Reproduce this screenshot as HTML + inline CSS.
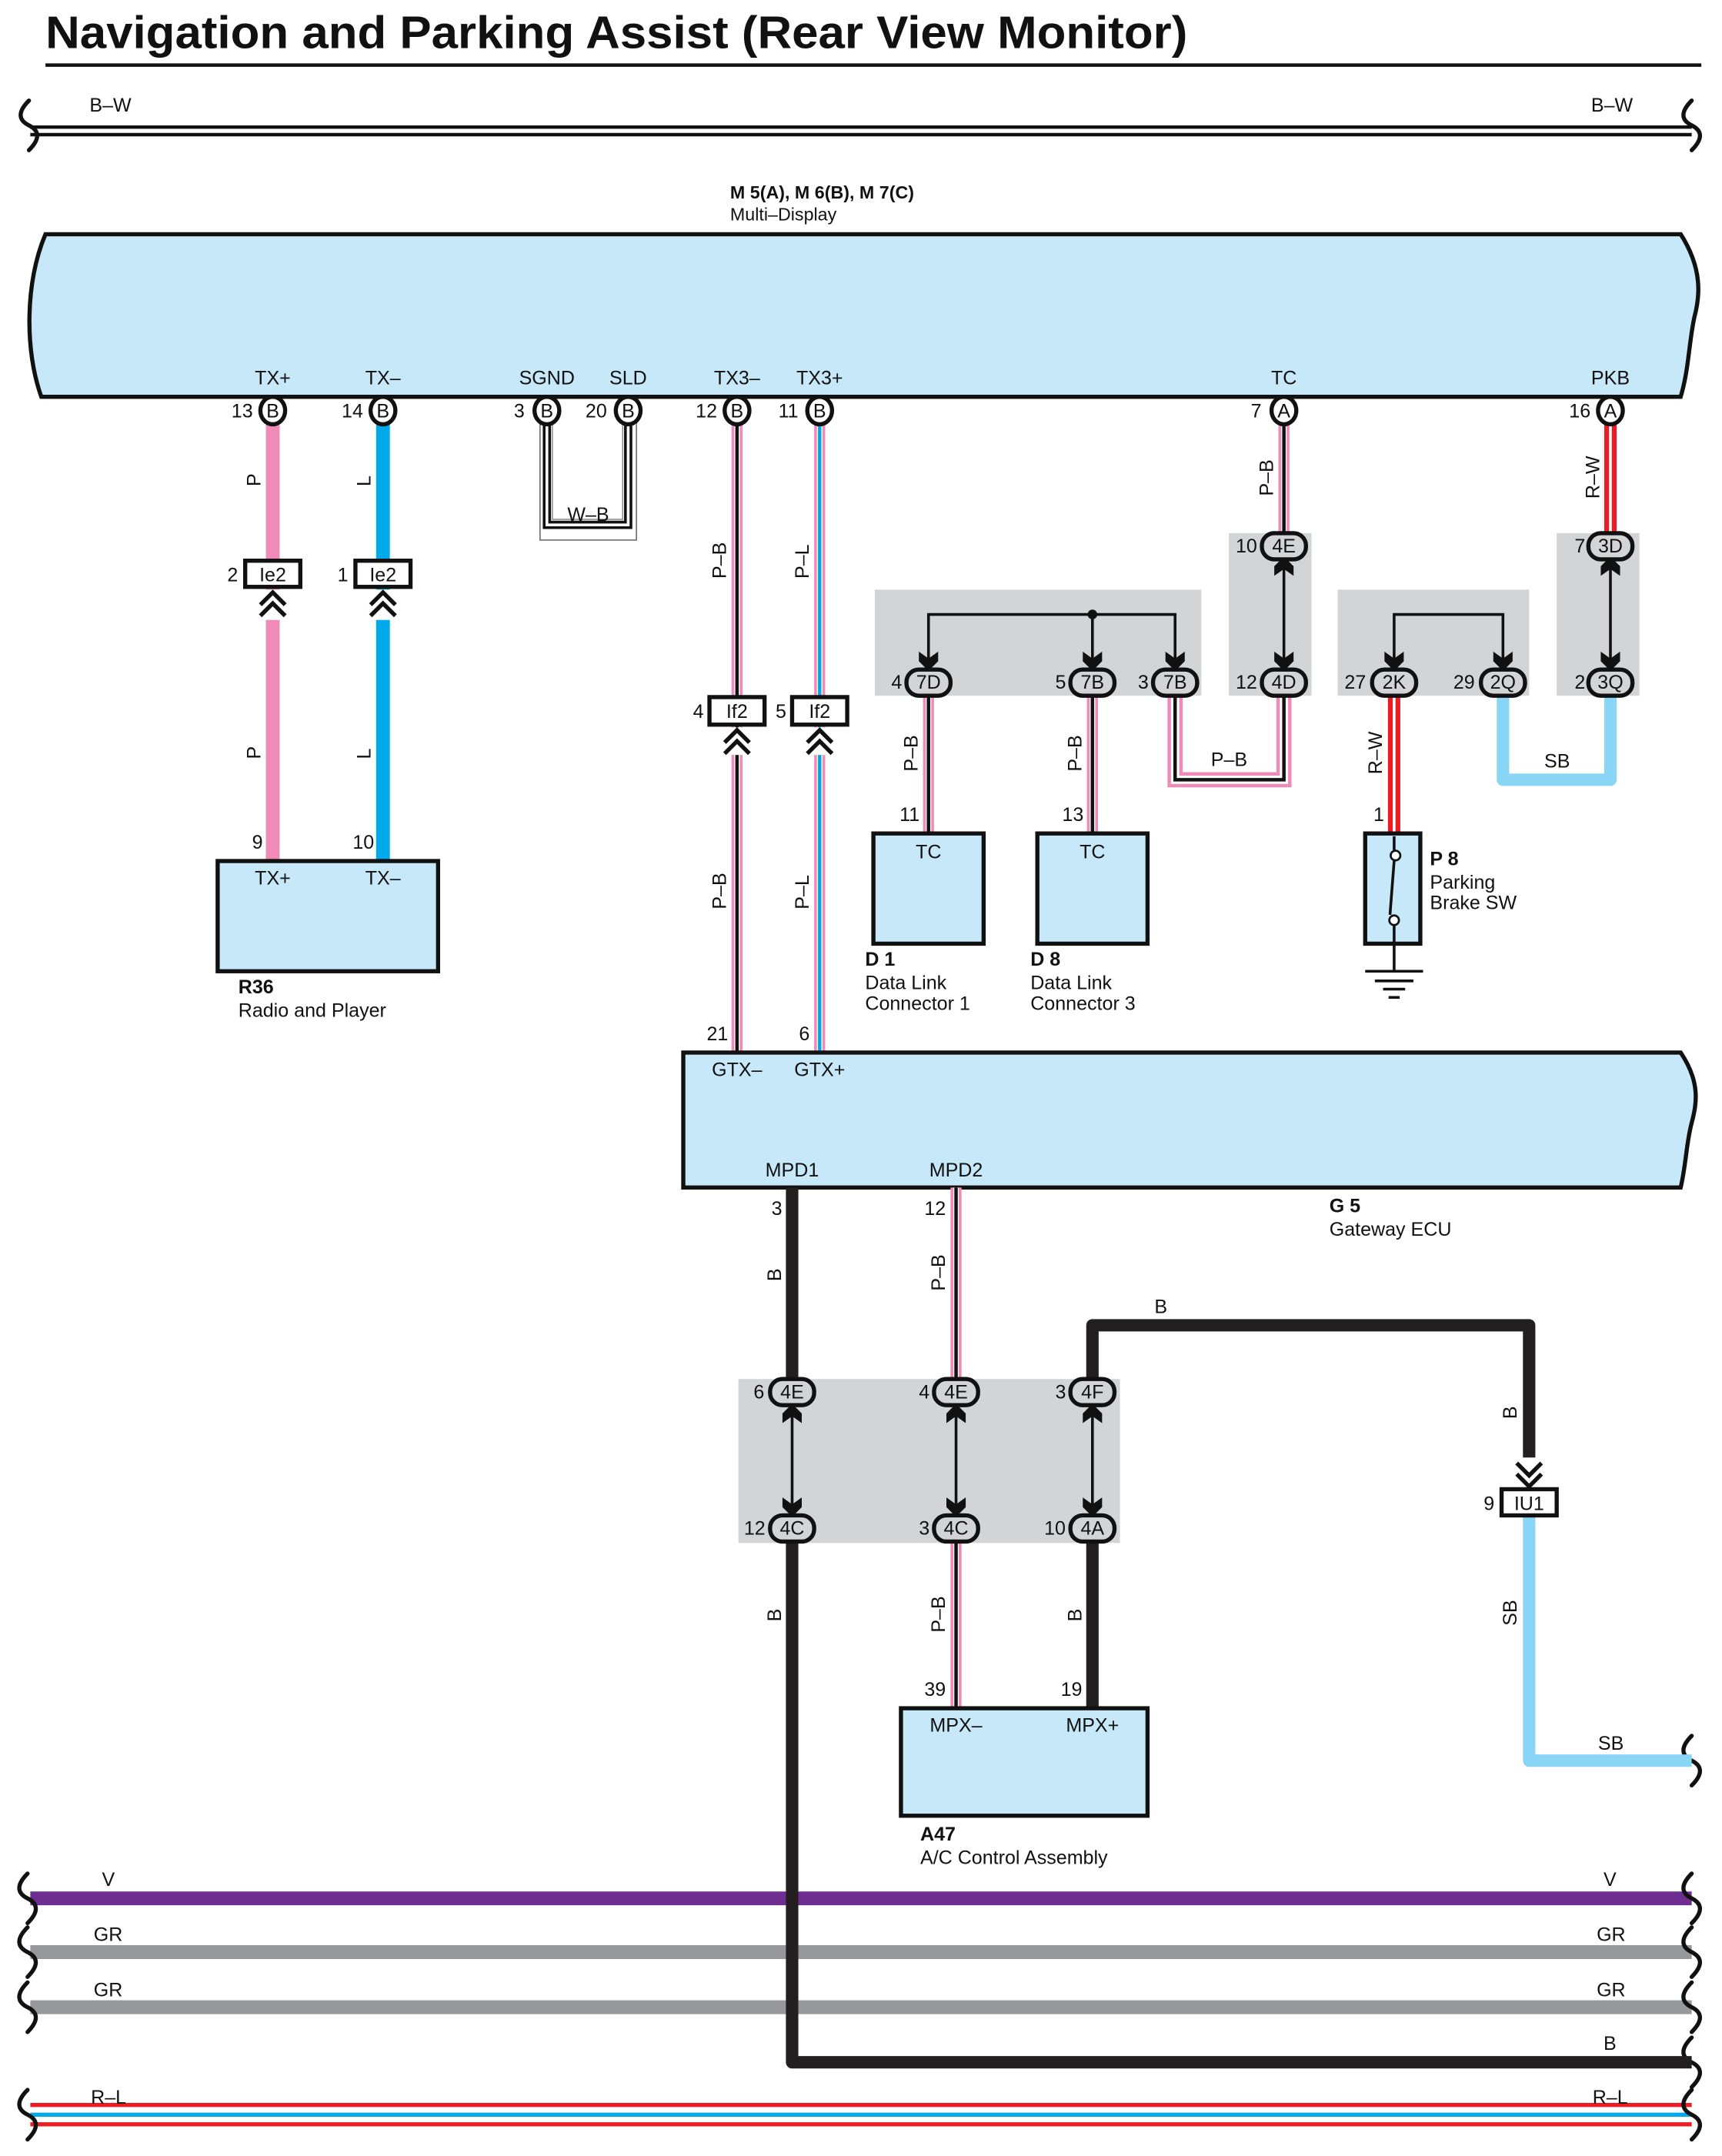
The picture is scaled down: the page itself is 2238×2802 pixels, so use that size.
<!DOCTYPE html>
<html><head><meta charset="utf-8"><style>
html,body{margin:0;padding:0;background:#fff}
svg{display:block}
text{font-family:"Liberation Sans",sans-serif;font-size:14px;fill:#111}
.b{font-weight:bold}
</style></head><body>
<svg width="2238" height="2802" viewBox="0 0 1250 1565" xmlns="http://www.w3.org/2000/svg">
<defs>
<path id="chev" d="M-9,9 L0,0 L9,9 M-9,17 L0,8 L9,17" fill="none" stroke="#111" stroke-width="3"/>
<path id="ad" d="M-7,-11 L0,-6 L7,-11 L7,-4 L0,3 L-7,-4Z" fill="#111"/>
<path id="brace" d="M0,-18 C-8,-10 -8,-4 0,0 C8,4 8,10 0,18" fill="none" stroke="#111" stroke-width="3" stroke-linecap="round"/>
</defs>

<text x="33" y="35" class="b" style="font-size:33px" textLength="829" lengthAdjust="spacingAndGlyphs">Navigation and Parking Assist (Rear View Monitor)</text>
<rect x="33" y="46" width="1202" height="2.5" fill="#111"/>

<!-- B-W bus -->
<line x1="22" y1="95" x2="1228" y2="95" stroke="#111" stroke-width="8"/>
<line x1="22" y1="95" x2="1228" y2="95" stroke="#fff" stroke-width="3"/>
<use href="#brace" x="21" y="91"/><use href="#brace" x="1228" y="91"/>
<text x="65" y="81">B–W</text><text x="1155" y="81">B–W</text>

<!-- Multi display -->
<text x="530" y="144" class="b" style="font-size:13px">M 5(A), M 6(B), M 7(C)</text>
<text x="530" y="160" style="font-size:13px">Multi–Display</text>
<path d="M33,170 L1220,170 C1236,195 1234,215 1230,230 C1226,248 1226,268 1220,288 L30,288 C18,255 18,205 33,170Z" fill="#c6e8f9" stroke="#111" stroke-width="3"/>
<g text-anchor="middle">
<text x="198" y="279">TX+</text><text x="278" y="279">TX–</text><text x="397" y="279">SGND</text><text x="456" y="279">SLD</text>
<text x="535" y="279">TX3–</text><text x="595" y="279">TX3+</text><text x="932" y="279">TC</text><text x="1169" y="279">PKB</text>
</g>

<!-- TX+ / TX- -->
<line x1="198" y1="305" x2="198" y2="625" stroke="#f08bb8" stroke-width="10"/>
<line x1="278" y1="305" x2="278" y2="625" stroke="#00aaea" stroke-width="10"/>
<rect x="178" y="407" width="40" height="19" fill="#fff" stroke="#111" stroke-width="3"/>
<rect x="258" y="407" width="40" height="19" fill="#fff" stroke="#111" stroke-width="3"/>
<rect x="190" y="428" width="16" height="22" fill="#fff"/><rect x="270" y="428" width="16" height="22" fill="#fff"/>
<use href="#chev" x="198" y="430"/><use href="#chev" x="278" y="430"/>
<text x="198" y="422" text-anchor="middle">Ie2</text><text x="278" y="422" text-anchor="middle">Ie2</text>
<text x="165" y="422">2</text><text x="245" y="422">1</text>
<text x="189" y="353" transform="rotate(-90 189 353)">P</text>
<text x="189" y="551" transform="rotate(-90 189 551)">P</text>
<text x="269" y="353" transform="rotate(-90 269 353)">L</text>
<text x="269" y="551" transform="rotate(-90 269 551)">L</text>
<text x="183" y="616">9</text><text x="256" y="616">10</text>
<rect x="158" y="625" width="160" height="80" fill="#c6e8f9" stroke="#111" stroke-width="3"/>
<text x="198" y="642" text-anchor="middle">TX+</text><text x="278" y="642" text-anchor="middle">TX–</text>
<text x="173" y="721" class="b">R36</text><text x="173" y="738">Radio and Player</text>

<!-- SGND/SLD -->
<rect x="392" y="305" width="70" height="87" fill="none" stroke="#777" stroke-width="1"/>
<rect x="392" y="300" width="70" height="8" fill="#fff"/>
<path d="M397,305 V381 H456 V305" fill="none" stroke="#111" stroke-width="6"/>
<path d="M397,305 V381 H456 V305" fill="none" stroke="#fff" stroke-width="2"/>
<path d="M401,305 V377 H452 V305" fill="none" stroke="#888" stroke-width="0.8"/>
<text x="427" y="378" text-anchor="middle">W–B</text>

<!-- TX3- / TX3+ -->
<line x1="535" y1="305" x2="535" y2="764" stroke="#f08bb8" stroke-width="8"/>
<line x1="535" y1="305" x2="535" y2="764" stroke="#fff" stroke-width="4"/>
<line x1="535" y1="305" x2="535" y2="764" stroke="#111" stroke-width="2.5"/>
<line x1="595" y1="305" x2="595" y2="764" stroke="#f08bb8" stroke-width="8"/>
<line x1="595" y1="305" x2="595" y2="764" stroke="#fff" stroke-width="4"/>
<line x1="595" y1="305" x2="595" y2="764" stroke="#00aaea" stroke-width="2.5"/>
<rect x="515" y="506" width="40" height="20" fill="#fff" stroke="#111" stroke-width="3"/>
<rect x="575" y="506" width="40" height="20" fill="#fff" stroke="#111" stroke-width="3"/>
<rect x="527" y="528" width="16" height="20" fill="#fff"/><rect x="587" y="528" width="16" height="20" fill="#fff"/>
<use href="#chev" x="535" y="530"/><use href="#chev" x="595" y="530"/>
<text x="535" y="521" text-anchor="middle">If2</text><text x="595" y="521" text-anchor="middle">If2</text>
<text x="503" y="521">4</text><text x="563" y="521">5</text>
<text x="527" y="420" transform="rotate(-90 527 420)">P–B</text>
<text x="587" y="420" transform="rotate(-90 587 420)">P–L</text>
<text x="527" y="660" transform="rotate(-90 527 660)">P–B</text>
<text x="587" y="660" transform="rotate(-90 587 660)">P–L</text>
<text x="513" y="755">21</text><text x="580" y="755">6</text>

<!-- gray boxes -->
<rect x="892" y="387" width="60" height="118" fill="#d3d4d6"/>
<rect x="635" y="428" width="237" height="77" fill="#d3d4d6"/>
<rect x="971" y="428" width="139" height="77" fill="#d3d4d6"/>
<rect x="1130" y="387" width="60" height="118" fill="#d3d4d6"/>
<rect x="536" y="1001" width="277" height="119" fill="#d3d4d6"/>

<!-- TC wiring -->
<g fill="none">
<path d="M932,305 V390" stroke="#f08bb8" stroke-width="8"/><path d="M932,305 V390" stroke="#fff" stroke-width="4"/><path d="M932,305 V390" stroke="#111" stroke-width="2.5"/>
<path d="M853,502 V566 H932 V502" stroke="#f08bb8" stroke-width="11"/><path d="M853,502 V566 H932 V502" stroke="#fff" stroke-width="6"/><path d="M853,502 V566 H932 V502" stroke="#111" stroke-width="2.5"/>
<path d="M674,502 V605" stroke="#f08bb8" stroke-width="8"/><path d="M674,502 V605" stroke="#fff" stroke-width="4"/><path d="M674,502 V605" stroke="#111" stroke-width="2.5"/>
<path d="M793,502 V605" stroke="#f08bb8" stroke-width="8"/><path d="M793,502 V605" stroke="#fff" stroke-width="4"/><path d="M793,502 V605" stroke="#111" stroke-width="2.5"/>
<path d="M674,484 V446 H853 V484 M793,446 V484" stroke="#111" stroke-width="2"/>
<path d="M932,410 V482" stroke="#111" stroke-width="2"/>
</g>
<circle cx="793" cy="446" r="3.5" fill="#111"/>
<use href="#ad" x="674" y="484"/><use href="#ad" x="793" y="484"/><use href="#ad" x="853" y="484"/>
<use href="#ad" x="932" y="484"/><use href="#ad" transform="translate(932 407) rotate(180)"/>
<text x="653" y="596">11</text><text x="771" y="596">13</text>
<text x="666" y="560" transform="rotate(-90 666 560)">P–B</text>
<text x="785" y="560" transform="rotate(-90 785 560)">P–B</text>
<text x="924" y="360" transform="rotate(-90 924 360)">P–B</text>
<text x="879" y="556">P–B</text>
<rect x="634" y="605" width="80" height="80" fill="#c6e8f9" stroke="#111" stroke-width="3"/>
<rect x="753" y="605" width="80" height="80" fill="#c6e8f9" stroke="#111" stroke-width="3"/>
<text x="674" y="623" text-anchor="middle">TC</text><text x="793" y="623" text-anchor="middle">TC</text>
<text x="628" y="701" class="b">D 1</text><text x="628" y="718">Data Link</text><text x="628" y="733">Connector 1</text>
<text x="748" y="701" class="b">D 8</text><text x="748" y="718">Data Link</text><text x="748" y="733">Connector 3</text>

<!-- PKB wiring -->
<g fill="none">
<path d="M1169,305 V390" stroke="#ec1c24" stroke-width="9"/><path d="M1169,305 V390" stroke="#fff" stroke-width="2"/>
<path d="M1012,502 V605" stroke="#ec1c24" stroke-width="9"/><path d="M1012,502 V605" stroke="#fff" stroke-width="2"/>
<path d="M1091,502 V566 H1169 V502" stroke="#88d5f6" stroke-width="9" stroke-linejoin="round"/>
<path d="M1012,484 V446 H1091 V484" stroke="#111" stroke-width="2"/>
<path d="M1169,410 V482" stroke="#111" stroke-width="2"/>
</g>
<use href="#ad" x="1012" y="484"/><use href="#ad" x="1091" y="484"/>
<use href="#ad" x="1169" y="484"/><use href="#ad" transform="translate(1169 407) rotate(180)"/>
<text x="1161" y="362" transform="rotate(-90 1161 362)">R–W</text>
<text x="1003" y="562" transform="rotate(-90 1003 562)">R–W</text>
<text x="1121" y="557">SB</text>
<text x="997" y="596">1</text>
<rect x="991" y="605" width="40" height="80" fill="#c6e8f9" stroke="#111" stroke-width="3"/>
<path d="M1012,607 V617 M1012,625 L1009,664 M1012,672 V705 M991,705 H1033 M998,712 H1026 M1004,718 H1020 M1008,724 H1016" stroke="#111" stroke-width="2" fill="none"/>
<circle cx="1013" cy="621" r="3.5" fill="#fff" stroke="#111" stroke-width="1.5"/>
<circle cx="1012" cy="668" r="3.5" fill="#fff" stroke="#111" stroke-width="1.5"/>
<text x="1038" y="628" class="b">P 8</text><text x="1038" y="645">Parking</text><text x="1038" y="660">Brake SW</text>

<!-- G5 -->
<path d="M496,764 L1220,764 C1234,785 1232,800 1228,815 C1224,830 1224,845 1220,862 L496,862Z" fill="#c6e8f9" stroke="#111" stroke-width="3"/>
<text x="535" y="781" text-anchor="middle">GTX–</text><text x="595" y="781" text-anchor="middle">GTX+</text>
<text x="575" y="854" text-anchor="middle">MPD1</text><text x="694" y="854" text-anchor="middle">MPD2</text>
<text x="965" y="880" class="b">G 5</text><text x="965" y="897">Gateway ECU</text>

<!-- bottom buses -->
<line x1="22" y1="1378" x2="1228" y2="1378" stroke="#6e2d91" stroke-width="10"/>
<line x1="22" y1="1417" x2="1228" y2="1417" stroke="#97989b" stroke-width="10"/>
<line x1="22" y1="1457" x2="1228" y2="1457" stroke="#97989b" stroke-width="10"/>
<line x1="22" y1="1528" x2="1228" y2="1528" stroke="#ec1c24" stroke-width="3"/>
<line x1="22" y1="1535" x2="1228" y2="1535" stroke="#00aaea" stroke-width="3"/>
<line x1="22" y1="1542" x2="1228" y2="1542" stroke="#ec1c24" stroke-width="3"/>
<g>
<use href="#brace" x="20" y="1378"/><use href="#brace" x="20" y="1417"/><use href="#brace" x="20" y="1457"/><use href="#brace" x="20" y="1535"/>
<use href="#brace" x="1228" y="1378"/><use href="#brace" x="1228" y="1417"/><use href="#brace" x="1228" y="1457"/><use href="#brace" x="1228" y="1497"/><use href="#brace" x="1228" y="1535"/><use href="#brace" x="1228" y="1278"/>
</g>
<text x="74" y="1369">V</text><text x="1164" y="1369">V</text>
<text x="68" y="1409">GR</text><text x="1159" y="1409">GR</text>
<text x="68" y="1449">GR</text><text x="1159" y="1449">GR</text>
<text x="1164" y="1488">B</text>
<text x="66" y="1527">R–L</text><text x="1156" y="1527">R–L</text>

<!-- MPD wiring -->
<g fill="none" stroke-linejoin="round">
<path d="M575,862 V1005" stroke="#231f20" stroke-width="9"/>
<path d="M575,1115 V1497 H1228" stroke="#231f20" stroke-width="9"/>
<path d="M694,862 V1005 M694,1115 V1240" stroke="#f08bb8" stroke-width="8"/><path d="M694,862 V1005 M694,1115 V1240" stroke="#fff" stroke-width="4"/><path d="M694,862 V1005 M694,1115 V1240" stroke="#111" stroke-width="2.5"/>
<path d="M793,1240 V1115" stroke="#231f20" stroke-width="9"/>
<path d="M793,1005 V962 H1110 V1072" stroke="#231f20" stroke-width="9"/>
<path d="M1110,1098 V1278 H1228" stroke="#88d5f6" stroke-width="9"/>
<path d="M575,1025 V1097 M694,1025 V1097 M793,1025 V1097" stroke="#111" stroke-width="2"/>
</g>
<rect x="1098" y="1058" width="24" height="22" fill="#fff"/>
<path d="M1101,1062 L1110,1071 L1119,1062 M1101,1070 L1110,1079 L1119,1070" fill="none" stroke="#111" stroke-width="3"/>
<rect x="1090" y="1081" width="40" height="19" fill="#fff" stroke="#111" stroke-width="3"/>
<text x="1110" y="1096" text-anchor="middle">IU1</text><text x="1077" y="1096">9</text>
<use href="#ad" x="575" y="1098"/><use href="#ad" x="694" y="1098"/><use href="#ad" x="793" y="1098"/>
<use href="#ad" transform="translate(575 1022) rotate(180)"/><use href="#ad" transform="translate(694 1022) rotate(180)"/><use href="#ad" transform="translate(793 1022) rotate(180)"/>
<text x="560" y="882">3</text><text x="671" y="882">12</text>
<text x="567" y="930" transform="rotate(-90 567 930)">B</text>
<text x="686" y="937" transform="rotate(-90 686 937)">P–B</text>
<text x="567" y="1177" transform="rotate(-90 567 1177)">B</text>
<text x="686" y="1185" transform="rotate(-90 686 1185)">P–B</text>
<text x="785" y="1177" transform="rotate(-90 785 1177)">B</text>
<text x="1101" y="1030" transform="rotate(-90 1101 1030)">B</text>
<text x="1101" y="1180" transform="rotate(-90 1101 1180)">SB</text>
<text x="838" y="953">B</text><text x="1160" y="1270">SB</text>
<text x="671" y="1231">39</text><text x="770" y="1231">19</text>
<rect x="654" y="1240" width="179" height="78" fill="#c6e8f9" stroke="#111" stroke-width="3"/>
<text x="694" y="1257" text-anchor="middle">MPX–</text><text x="793" y="1257" text-anchor="middle">MPX+</text>
<text x="668" y="1336" class="b">A47</text><text x="668" y="1353">A/C Control Assembly</text>

<!-- connectors -->
<g stroke="#111" stroke-width="3" fill="#fff">
<ellipse cx="198" cy="298" rx="9" ry="10"/><ellipse cx="278" cy="298" rx="9" ry="10"/><ellipse cx="397" cy="298" rx="9" ry="10"/><ellipse cx="456" cy="298" rx="9" ry="10"/>
<ellipse cx="535" cy="298" rx="9" ry="10"/><ellipse cx="595" cy="298" rx="9" ry="10"/><ellipse cx="932" cy="298" rx="9" ry="10"/><ellipse cx="1169" cy="298" rx="9" ry="10"/>
</g>
<g stroke="#111" stroke-width="3" fill="#d3d4d6">
<rect x="916" y="387" width="32" height="19" rx="9"/><rect x="916" y="486" width="32" height="19" rx="9"/>
<rect x="1153" y="387" width="32" height="19" rx="9"/><rect x="1153" y="486" width="32" height="19" rx="9"/>
<rect x="658" y="486" width="32" height="19" rx="9"/><rect x="777" y="486" width="32" height="19" rx="9"/><rect x="837" y="486" width="32" height="19" rx="9"/>
<rect x="996" y="486" width="32" height="19" rx="9"/><rect x="1075" y="486" width="32" height="19" rx="9"/>
<rect x="559" y="1001" width="32" height="19" rx="9"/><rect x="678" y="1001" width="32" height="19" rx="9"/><rect x="777" y="1001" width="32" height="19" rx="9"/>
<rect x="559" y="1100" width="32" height="19" rx="9"/><rect x="678" y="1100" width="32" height="19" rx="9"/><rect x="777" y="1100" width="32" height="19" rx="9"/>
</g>
<g text-anchor="middle" style="font-size:13px">
<text x="198" y="303">B</text><text x="278" y="303">B</text><text x="397" y="303">B</text><text x="456" y="303">B</text>
<text x="535" y="303">B</text><text x="595" y="303">B</text><text x="932" y="303">A</text><text x="1169" y="303">A</text>
<text x="932" y="401">4E</text><text x="932" y="500">4D</text><text x="1169" y="401">3D</text><text x="1169" y="500">3Q</text>
<text x="674" y="500">7D</text><text x="793" y="500">7B</text><text x="853" y="500">7B</text>
<text x="1012" y="500">2K</text><text x="1091" y="500">2Q</text>
<text x="575" y="1015">4E</text><text x="694" y="1015">4E</text><text x="793" y="1015">4F</text>
<text x="575" y="1114">4C</text><text x="694" y="1114">4C</text><text x="793" y="1114">4A</text>
</g>
<text x="168" y="303">13</text><text x="248" y="303">14</text><text x="373" y="303">3</text><text x="425" y="303">20</text>
<text x="505" y="303">12</text><text x="565" y="303">11</text><text x="908" y="303">7</text><text x="1139" y="303">16</text>
<text x="897" y="401">10</text><text x="897" y="500">12</text><text x="1143" y="401">7</text><text x="1143" y="500">2</text>
<text x="647" y="500">4</text><text x="766" y="500">5</text><text x="826" y="500">3</text>
<text x="976" y="500">27</text><text x="1055" y="500">29</text>
<text x="547" y="1015">6</text><text x="667" y="1015">4</text><text x="766" y="1015">3</text>
<text x="540" y="1114">12</text><text x="667" y="1114">3</text><text x="758" y="1114">10</text>
</svg>
</body></html>
